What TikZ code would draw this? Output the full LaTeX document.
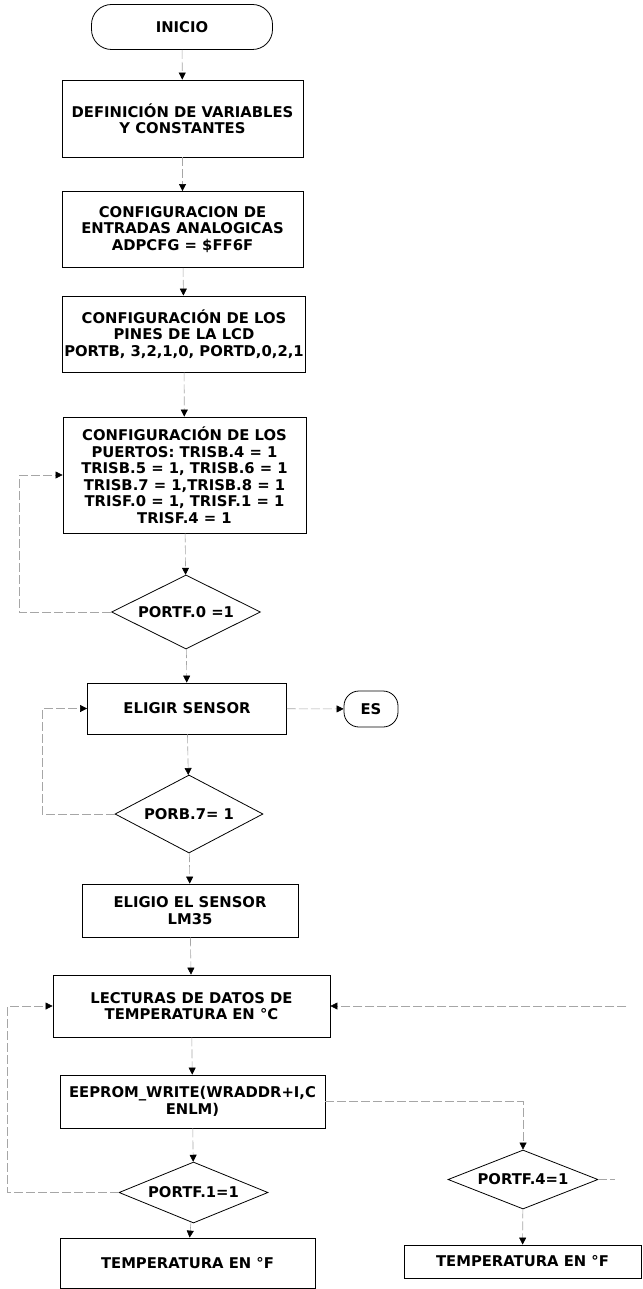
\documentclass[tikz,border=0pt]{standalone}
\usepackage{fontspec}
\setmainfont{DejaVu Sans}
\usepackage{tikz}
\usetikzlibrary{shapes.geometric, arrows.meta, positioning, calc}

\begin{document}
\begin{tikzpicture}[x=1pt, y=-1pt,
    proc/.style={rectangle, draw, line width=0.8pt, inner sep=2pt, align=center, font=\bfseries\fontsize{14.8}{16.5}\selectfont},
    term/.style={rectangle, rounded corners=20pt, draw, line width=0.8pt, align=center, font=\bfseries\fontsize{14.8}{16.5}\selectfont},
    cond/.style={diamond, aspect=2, draw, line width=0.8pt, inner sep=0pt, align=center, font=\bfseries\fontsize{14.8}{16.5}\selectfont},
    ln/.style={draw=gray!70, line width=0.6pt, dash pattern=on 9pt off 3pt},
    ar/.style={ln, -{Triangle[length=7pt, width=7pt, color=black]}}]

\useasboundingbox (0,0) rectangle (642,1289);

% Main column
\node[term, minimum width=181pt, minimum height=45pt] (ini) at (182,27) {INICIO};
\node[proc, minimum width=241pt, minimum height=77pt] (def) at (182.5,118.5) {DEFINICIÓN DE VARIABLES\\Y CONSTANTES};
\node[proc, minimum width=241pt, minimum height=76pt] (adc) at (182.5,229.5) {CONFIGURACION DE\\ENTRADAS ANALOGICAS\\ADPCFG = \$FF6F};
\node[proc, minimum width=242pt, minimum height=76pt] (lcd) at (184,334) {CONFIGURACIÓN DE LOS\\PINES DE LA LCD\\PORTB, 3,2,1,0, PORTD,0,2,1};
\node[proc, minimum width=243pt, minimum height=116pt] (ports) at (184.5,475) {CONFIGURACIÓN DE LOS\\PUERTOS: TRISB.4 = 1\\TRISB.5 = 1, TRISB.6 = 1\\TRISB.7 = 1,TRISB.8 = 1\\TRISF.0 = 1, TRISF.1 = 1\\TRISF.4 = 1};
\node[cond, minimum width=149pt, minimum height=74pt] (d0) at (186,612) {PORTF.0 =1};
\node[proc, minimum width=199pt, minimum height=51pt] (sel) at (187,708.5) {ELIGIR SENSOR};
\node[term, rounded corners=15pt, minimum width=54pt, minimum height=36pt] (es) at (371,709) {ES};
\node[cond, minimum width=148pt, minimum height=78pt] (d7) at (189,814) {PORB.7= 1};
\node[proc, minimum width=216pt, minimum height=53pt] (lm) at (190,910.5) {ELIGIO EL SENSOR\\LM35};
\node[proc, minimum width=277pt, minimum height=62pt] (read) at (191.5,1006) {LECTURAS DE DATOS DE\\TEMPERATURA EN °C};
\node[proc, minimum width=265pt, minimum height=53pt] (eep) at (192.5,1101.5) {EEPROM\_WRITE(WRADDR+I,C\\ENLM)};
\node[cond, minimum width=149pt, minimum height=61pt] (d1) at (193.5,1192.5) {PORTF.1=1};
\node[proc, minimum width=255pt, minimum height=50pt] (tf1) at (187.5,1263) {TEMPERATURA EN °F};

% Right branch
\node[cond, minimum width=150pt, minimum height=59pt] (d4) at (523,1179.5) {PORTF.4=1};
\node[proc, minimum width=237pt, minimum height=33pt] (tf2) at (522.5,1261.5) {TEMPERATURA EN °F};
\coordinate (stub) at ([xshift=17pt]d4.east);
\coordinate (back) at ([xshift=296pt]read.east);

% Arrows
\draw[ar] (ini) -- (def);
\draw[ar] (def) -- (adc);
\draw[ar] (adc) -- (lcd);
\draw[ar] (lcd) -- (ports);
\draw[ar] (ports) -- (d0);
\draw[ar] (d0) -- (sel);
\draw[ar] (d0.west) -| ([xshift=-43pt]ports.west) -- (ports.west);
\draw[ar] (sel) -- (es);
\draw[ar] (sel) -- (d7);
\draw[ar] (d7.west) -| ([xshift=-45pt]sel.west) -- (sel.west);
\draw[ar] (d7) -- (lm);
\draw[ar] (lm) -- (read);
\draw[ar] (read) -- (eep);
\draw[ar] (eep) -- (d1);
\draw[ar] (d1.west) -| ([xshift=-45pt]read.west) -- (read.west);
\draw[ar] (d1) -- (tf1);
\draw[ar] (eep.east) -| (d4.north);
\draw[ar] (d4) -- (tf2);
\draw[ln] (d4.east) -- (stub);
\draw[ar] (back) -- (read.east);

\end{tikzpicture}
\end{document}
